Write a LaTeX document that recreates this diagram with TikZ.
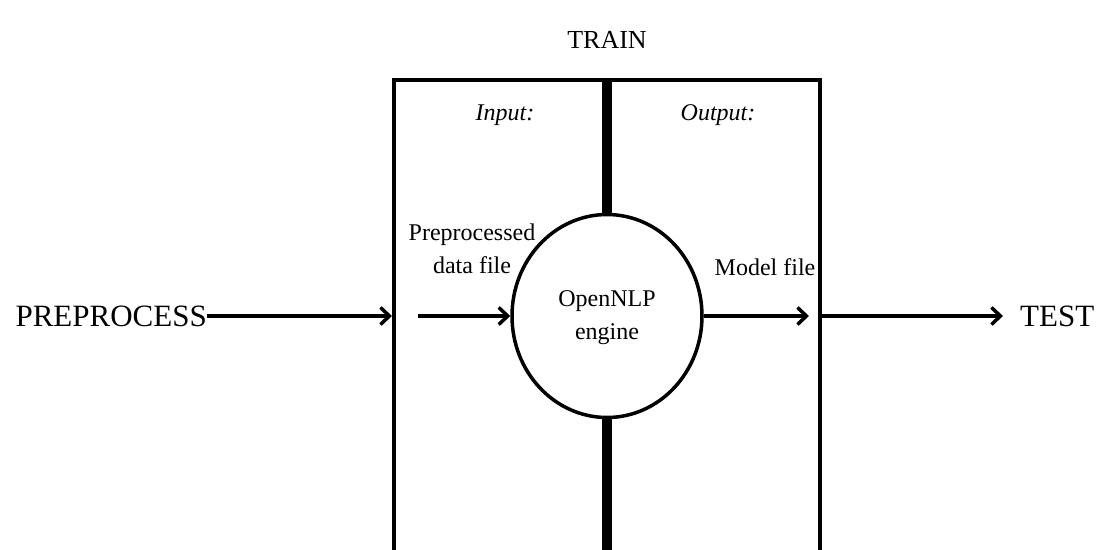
\documentclass[tikz,border=0pt]{standalone}
\usepackage{fontspec}
\setmainfont{Liberation Serif}
\usetikzlibrary{arrows.meta, shapes.geometric, positioning}

\tikzset{
  bigtext/.style={font=\fontsize{31}{36}\selectfont, inner sep=0pt},
  smalltext/.style={font=\fontsize{24}{33}\selectfont, inner sep=0pt, align=center},
  arr/.style={-{Straight Barb[length=9pt,width=17pt]}, line width=3.5pt},
}

\begin{document}
\begin{tikzpicture}[x=1pt, y=-1pt]
        \useasboundingbox (0,0) rectangle (1106,549);

        % Train box (open at the bottom)
        \node[font=\fontsize{26}{30}\selectfont, inner sep=0pt] (train) at (607,40) {TRAIN};
        \draw[line width=3.5pt] (394,552) -- (394,80) -- (820,80) -- (820,552);
        \coordinate (boxL) at (392,316);
        \coordinate (boxR) at (820,316);

        % OpenNLP engine
        \node[draw, ellipse, fill=white, line width=3.5pt, minimum width=190pt, minimum height=203pt,
              inner sep=0pt] (engine) at (607,316) {};
        \node[smalltext] (enginelbl) at (607,318) {OpenNLP\\engine};

        % Divider
        \coordinate (divtop) at (607,80);
        \coordinate (divbot) at (607,552);
        \draw[line width=10pt] (divtop) -- (engine.north);
        \draw[line width=10pt] (engine.south) -- (divbot);

        % Labels
        \node[smalltext, font=\itshape\fontsize{24}{27}\selectfont] (input) at (505,115) {Input:};
        \node[smalltext, font=\itshape\fontsize{24}{27}\selectfont] (output) at (718,115) {Output:};
        \node[smalltext] (datafile) at (472,249) {Preprocessed\\data file};
        \node[smalltext] (modelfile) at (765,267) {Model file};

        % Outer stages
        \node[bigtext, anchor=east] (pre) at (207,316) {PREPROCESS};
        \node[bigtext, anchor=west] (test) at (1020,316) {TEST};
        \coordinate (inStart) at (418,316);
        \coordinate (outEnd) at (809,316);

        % Arrows
        \draw[arr] (pre.east) -- (boxL);
        \draw[arr] (inStart) -- (engine.west);
        \draw[arr] (engine.east) -- (outEnd);
        \draw[arr] (boxR) -- (1003,316) coordinate (testIn);
\end{tikzpicture}
\end{document}
